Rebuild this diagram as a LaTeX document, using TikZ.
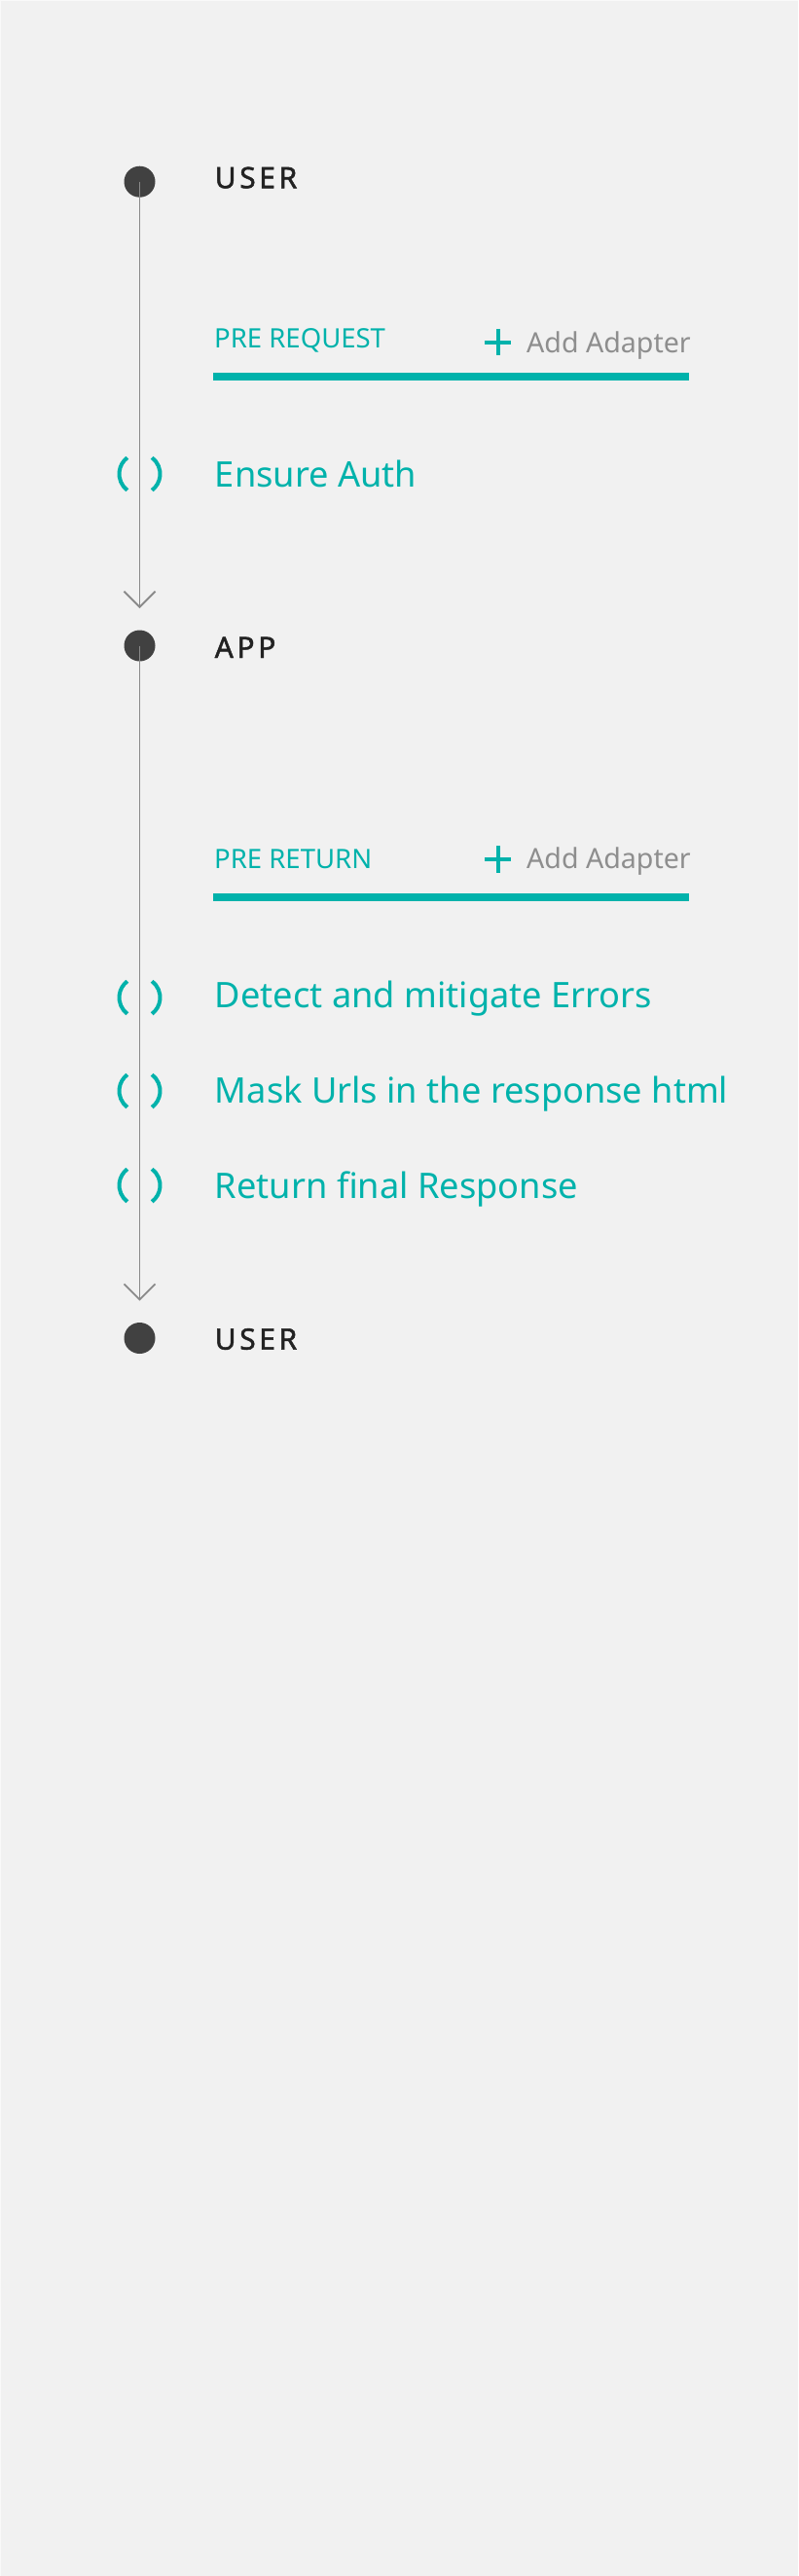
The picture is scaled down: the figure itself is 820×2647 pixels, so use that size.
\documentclass[tikz,border=0pt]{standalone}
\usepackage{fontspec}
\setmainfont{Noto Sans}
\newfontfamily\trackfont[LetterSpace=12,FakeBold=1.6]{Noto Sans}
\usetikzlibrary{arrows.meta}
\definecolor{bgc}{HTML}{F1F1F1}
\definecolor{tealc}{HTML}{00B2AB}
\definecolor{dotc}{HTML}{414141}
\definecolor{darkc}{HTML}{222222}
\definecolor{grayc}{HTML}{8E8E8E}
\definecolor{linec}{HTML}{8A8A8A}
\tikzset{
  stagedot/.style={circle,fill=dotc,inner sep=0pt,minimum size=32pt},
  stagelabel/.style={anchor=base west,inner sep=0pt,text=darkc,font=\trackfont\fontsize{30}{36}\selectfont},
  phaselabel/.style={anchor=base west,inner sep=0pt,text=tealc,font=\fontsize{27.5}{33}\selectfont},
  addlabel/.style={anchor=base east,inner sep=0pt,text=grayc,font=\fontsize{28.6}{35}\selectfont},
  plusbox/.style={inner sep=0pt,minimum size=27pt},
  plusstroke/.style={draw=tealc,line width=4pt},
  phasebar/.style={fill=tealc,draw=none},
  steplabel/.style={anchor=base west,inner sep=0pt,text=tealc,font=\fontsize{36.2}{43}\selectfont},
  parenmark/.style={inner sep=0pt,minimum size=42pt},
  parenstroke/.style={draw=tealc,line width=4pt,line cap=butt},
  flow/.style={draw=linec,line width=1.8pt,-{Straight Barb[length=16pt,width=32pt,line width=1.8pt]}}
}
\newcommand{\plusat}[2]{%
  \node[plusbox] (#1) at #2 {};
  \draw[plusstroke] (#1.west) -- (#1.east);
  \draw[plusstroke] (#1.north) -- (#1.south);
}
\newcommand{\parensat}[2]{%
  \node[parenmark] (#1) at #2 {};
  \draw[parenstroke] (#1.center) ++(127:21) arc[start angle=127,end angle=233,radius=21];
  \draw[parenstroke] (#1.center) ++(-53:21) arc[start angle=-53,end angle=53,radius=21];
}
\begin{document}
\begin{tikzpicture}[x=1pt,y=-1pt]
\fill[bgc] (0,0) rectangle (820,2647);
\draw[white!60!bgc,line width=1pt] (0.5,2646.5) -- (0.5,0.5) -- (819.5,0.5);
\useasboundingbox (0,0) rectangle (820,2647);

% stages
\node[stagedot] (u1) at (143.5,186.7) {};
\node[stagelabel] (u1t) at (220.5,193.3) {USER};
\node[stagedot] (app) at (143.5,663.5) {};
\node[stagelabel] (appt) at (220.5,676) {APP};
\node[stagedot] (u2) at (143.5,1375) {};
\node[stagelabel] (u2t) at (220.5,1386.7) {USER};

% arrow tip coordinates
\coordinate (tip1) at (143.5,625);
\coordinate (tip2) at (143.5,1336.7);

% connectors
\draw[flow] (u1.center) -- (tip1);
\draw[flow] (app.center) -- (tip2);

% phase 1
\node[phaselabel] (pre1) at (220,357) {PRE REQUEST};
\node[addlabel] (add1) at (710,362) {Add Adapter};
\plusat{plus1}{(511.5,351.5)}
\node[phasebar,minimum width=488.7pt,minimum height=8pt,inner sep=0pt,anchor=north west] (bar1) at (219,383) {};

\parensat{p1}{(143.5,487)}
\node[steplabel] (s1) at (220.7,500.7) {Ensure Auth};

% phase 2
\node[phaselabel] (pre2) at (220,892.7) {PRE RETURN};
\node[addlabel] (add2) at (710,892.7) {Add Adapter};
\plusat{plus2}{(511.5,883)}
\node[phasebar,minimum width=488.7pt,minimum height=8pt,inner sep=0pt,anchor=north west] (bar2) at (219,918) {};

\parensat{p2}{(143.5,1025)}
\node[steplabel] (s2) at (220.7,1035.7) {Detect and mitigate Errors};
\parensat{p3}{(143.5,1121)}
\node[steplabel] (s3) at (220.7,1133.5) {Mask Urls in the response html};
\parensat{p4}{(143.5,1218)}
\node[steplabel] (s4) at (220.7,1231) {Return final Response};
\end{tikzpicture}
\end{document}
